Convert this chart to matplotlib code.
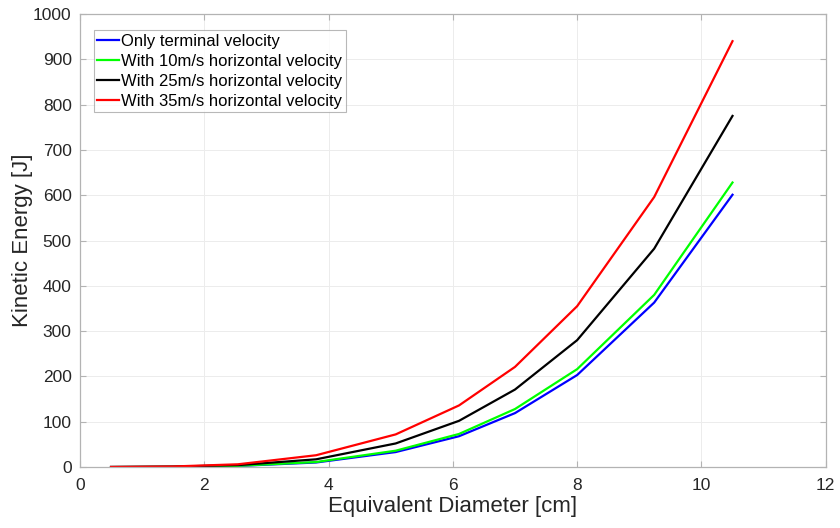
import matplotlib
matplotlib.use("Agg")
import matplotlib.pyplot as plt

plt.rcParams['font.family'] = ['Liberation Sans', 'DejaVu Sans']

# Equivalent hailstone diameter [cm]
diameter = [0.5, 1.5, 2.54, 3.8, 5.08, 6.1, 7.0, 8.0, 9.24, 10.5]

# Kinetic energy [J] for each case
ke_terminal = [0.0, 0.4, 2.3, 10, 33, 68, 119, 203, 363, 601]
ke_10 = [0.0, 0.5, 2.6, 11, 36, 73, 128, 216, 380, 628]
ke_25 = [0.0, 0.8, 4.2, 17, 52, 102, 171, 280, 482, 775]
ke_35 = [0.1, 1.2, 6.0, 26, 72, 136, 221, 355, 596, 940]

labels = ["Only terminal velocity",
          "With 10m/s horizontal velocity",
          "With 25m/s horizontal velocity",
          "With 35m/s horizontal velocity"]
colors = ["#0000ff", "#00ff00", "#000000", "#ff0000"]

fig = plt.figure(figsize=(8.4, 5.28), dpi=100)
ax = fig.add_axes([0.0952, 0.1155, 0.8878, 0.858])

for ys, lab, c in zip([ke_terminal, ke_10, ke_25, ke_35], labels, colors):
    ax.plot(diameter, ys, color=c, lw=1.6, label=lab)

ax.set_xlim(0, 12)
ax.set_ylim(0, 1000)
ax.set_xticks(range(0, 13, 2))
ax.set_yticks(range(0, 1001, 100))
ax.grid(True, color="#ececec", lw=0.7)
ax.set_axisbelow(True)

axis_col = "#262626"
for s in ax.spines.values():
    s.set_color("#b3b3b3")
    s.set_linewidth(0.9)
ax.tick_params(direction="in", top=True, right=True, length=4,
               color="#b3b3b3", labelcolor=axis_col, labelsize=12.5)
ax.tick_params(axis="x", pad=8)
ax.tick_params(axis="y", pad=6)

ax.set_xlabel("Equivalent Diameter [cm]", fontsize=16, color=axis_col, labelpad=2)
ax.set_ylabel("Kinetic Energy [J]", fontsize=16, color=axis_col, labelpad=0)

leg = ax.legend(loc="upper left", bbox_to_anchor=(0.012, 0.975), fontsize=12,
                frameon=True, fancybox=False, borderpad=0.2, labelspacing=0.3,
                handlelength=1.3, handletextpad=0.15, borderaxespad=0.3)
leg.get_frame().set_edgecolor("#a6a6a6")
leg.get_frame().set_linewidth(0.8)

fig.savefig("out.png", dpi=100)
